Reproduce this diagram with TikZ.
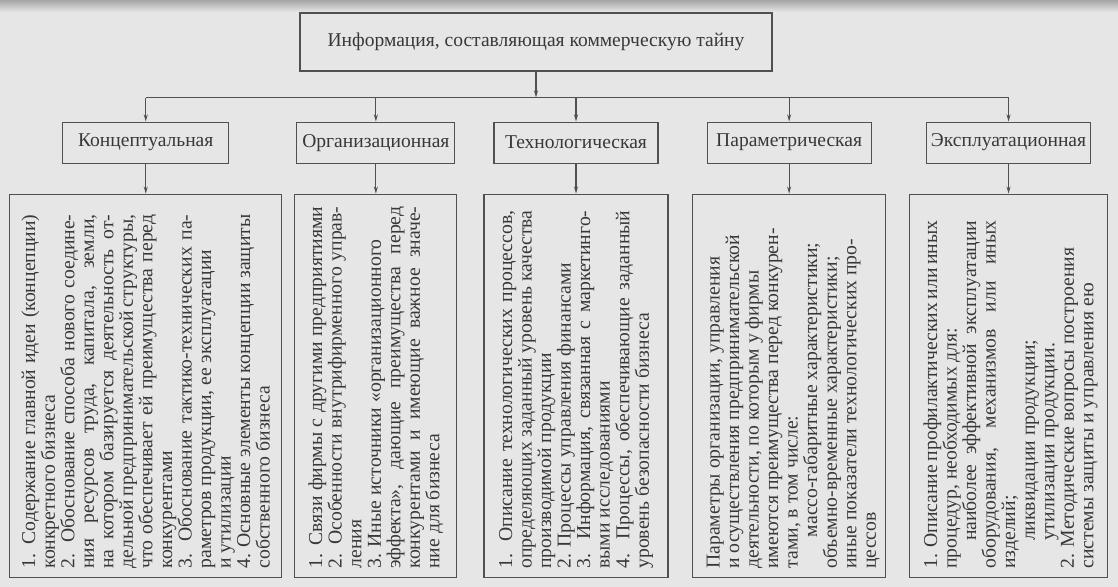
\documentclass[tikz,border=0pt]{standalone}
\usepackage{fontspec}
\setmainfont{Liberation Serif}
\usetikzlibrary{arrows.meta, positioning, calc}
\definecolor{paper}{HTML}{E6E6E6}
\definecolor{ink}{HTML}{383838}
\definecolor{frame}{HTML}{505050}
\tikzset{
  mainBox/.style = {rectangle, draw=frame, line width=0.8pt, text=ink,
    minimum width=11.8cm, minimum height=1.45cm, align=center,
    font=\fontsize{13.9pt}{15pt}\selectfont},
  catBox/.style = {rectangle, draw=frame, line width=0.8pt, text=ink,
    minimum width=4.1cm, minimum height=1.025cm, align=center,
    font=\fontsize{13.9pt}{15pt}\selectfont},
  itemBox/.style = {rectangle, draw=frame, line width=0.8pt,
    minimum height=9.575cm},
  itemText/.style = {rotate=90, anchor=west, inner sep=0pt, text=ink,
    text width=8.85cm, align=justify, font=\fontsize{14pt}{13.9pt}\selectfont,
    execute at begin node={\tolerance=9999 \emergencystretch=2em
      \hyphenpenalty=10000 \exhyphenpenalty=10000\relax}},
  link/.style = {-{Stealth[length=1.8mm, width=1mm]}, line width=0.8pt, draw=frame},
  busLine/.style = {line width=0.8pt, draw=frame},
}

\begin{document}
\begin{tikzpicture}

\fill[paper] (0,0) rectangle (27.95,-14.675);
\shade[top color=paper!72!black, bottom color=paper] (0,0) rectangle (27.95,-0.3);
\useasboundingbox (0,0) rectangle (27.95,-14.675);

\node[mainBox] (top) at (13.4,-1.05) {Информация, составляющая коммерческую тайну};
\coordinate[below=0.65cm of top] (split);

\node[catBox, below=1.25cm of top, xshift=1cm] (cat3) {Технологическая};
\node[catBox, minimum width=3.95cm, left=0.95cm of cat3] (cat2) {Организационная};
\node[catBox, minimum width=4.15cm, left=1.675cm of cat2] (cat1) {Концептуальная};
\node[catBox, right=1.2cm of cat3] (cat4) {Параметрическая};
\node[catBox, right=1.35cm of cat4] (cat5) {Эксплуатационная};

\node[itemBox, minimum width=6.8cm, below=0.75cm of cat1] (item1) {};
\node[itemBox, minimum width=4.05cm, below=0.75cm of cat2] (item2) {};
\node[itemBox, minimum width=4.6cm, below=0.75cm of cat3] (item3) {};
\node[itemBox, minimum width=4.825cm, below=0.75cm of cat4] (item4) {};
\node[itemBox, minimum width=4.95cm, below=0.75cm of cat5] (item5) {};

\node[itemText] (text1) at ($(item1.south)+(0,0.225)$) {%
1. Содержание главной идеи (концепции)\linebreak
конкретного бизнеса\\
2. Обоснование способа нового соедине-\linebreak
ния ресурсов труда, капитала, земли,\linebreak
на котором базируется деятельность от-\linebreak
дельной предпринимательской структуры,\linebreak
что обеспечивает ей преимущества перед\linebreak
конкурентами\\
3. Обоснование тактико-технических па-\linebreak
раметров продукции, ее эксплуатации\\
и утилизации\\
4. Основные элементы концепции защиты\linebreak
собственного бизнеса};
\node[itemText, text width=9.05cm] (text2) at ($(item2.south)+(0,0.225)$) {%
1. Связи фирмы с другими предприятиями\linebreak
2. Особенности внутрифирменного управ-\linebreak
ления\\
3. Иные источники «организационного\\
эффекта», дающие преимущества перед\linebreak
конкурентами и имеющие важное значе-\linebreak
ние для бизнеса};
\node[itemText, text width=8.95cm] (text3) at ($(item3.south)+(0,0.225)$) {%
1. Описание технологических процессов,\linebreak
определяющих заданный уровень качества\linebreak
производимой продукции\\
2. Процессы управления финансами\\
3. Информация, связанная с маркетинго-\linebreak
выми исследованиями\\
4. Процессы, обеспечивающие заданный\linebreak
уровень безопасности бизнеса};
\node[itemText, text width=8.7cm, yshift=-0.1cm] (text4) at ($(item4.south)+(0,0.225)$) {%
Параметры организации, управления\\
и осуществления предпринимательской\\
деятельности, по которым у фирмы\\
имеются преимущества перед конкурен-\\
тами, в том числе:\\
\hspace*{1.6em}массо-габаритные характеристики;\\
объемно-временные характеристики;\\
иные показатели технологических про-\\
цессов};
\node[itemText, text width=8.7cm, yshift=-0.05cm] (text5) at ($(item5.south)+(0,0.225)$) {%
1. Описание профилактических или иных\linebreak
процедур, необходимых для:\\
\hspace*{1.4em}наиболее эффективной эксплуатации\linebreak
оборудования, механизмов или иных\linebreak
изделий;\\
\hspace*{1.4em}ликвидации продукции;\\
\hspace*{1.4em}утилизации продукции.\\
2. Методические вопросы построения\\
системы защиты и управления ею};

\draw[link] (top) -- (split);
\draw[busLine] (cat1 |- split) -- (cat5 |- split);
\draw[link] (cat1 |- split) -- (cat1);
\draw[link] (cat2 |- split) -- (cat2);
\draw[link] (cat3 |- split) -- (cat3);
\draw[link] (cat4 |- split) -- (cat4);
\draw[link] (cat5 |- split) -- (cat5);
\draw[link] (cat1) -- (item1);
\draw[link] (cat2) -- (item2);
\draw[link] (cat3) -- (item3);
\draw[link] (cat4) -- (item4);
\draw[link] (cat5) -- (item5);

\end{tikzpicture}
\end{document}
